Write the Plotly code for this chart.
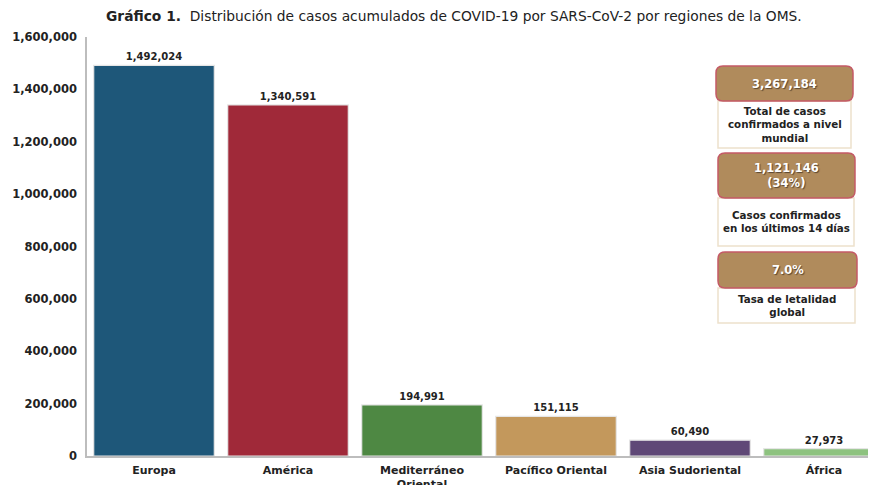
import plotly.graph_objects as go

regions = ["Europa", "América", "Mediterráneo<br>Oriental", "Pacífico Oriental", "Asia Sudoriental", "África"]
cases = [1492024, 1340591, 194991, 151115, 60490, 27973]
bar_colors = ["#1E5779", "#A02939", "#4E8843", "#C3985C", "#5F4877", "#8DC27F"]

stat_values = ["3,267,184", "1,121,146<br>(34%)", "7.0%"]
stat_labels = ["Total de casos<br>confirmados a nivel<br>mundial",
               "Casos confirmados<br>en los últimos 14 días",
               "Tasa de letalidad<br>global"]

FONT = "DejaVu Sans"
OFF = 8  # page body margin
W, H = 876 - OFF, 485 - OFF
L, T = 87 - OFF, 37 - OFF
PB = 456 - OFF
B = H - PB
R = 0
PW, PH = W - L - R, PB - T

def px(x):
    return (x - OFF - L) / PW

def py(y):
    return (PB - (y - OFF)) / PH

def rrect(x0, y0, x1, y1, r):
    a = lambda x, y: f"{px(x):.5f},{py(y):.5f}"
    return (f"M {a(x0 + r, y0)} L {a(x1 - r, y0)} Q {a(x1, y0)} {a(x1, y0 + r)} "
            f"L {a(x1, y1 - r)} Q {a(x1, y1)} {a(x1 - r, y1)} "
            f"L {a(x0 + r, y1)} Q {a(x0, y1)} {a(x0, y1 - r)} "
            f"L {a(x0, y0 + r)} Q {a(x0, y0)} {a(x0 + r, y0)} Z")

fig = go.Figure()
fig.add_trace(go.Bar(
    x=regions, y=cases,
    marker=dict(color=bar_colors, line=dict(color="#E6E6E6", width=1.2)),
    text=[f"{v:,}" for v in cases], textposition="outside",
    textfont=dict(family=FONT, size=10, color="#222222", weight="bold"),
    cliponaxis=False, width=0.9,
))

headers = [(716, 66, 853, 101), (718, 153, 855, 198), (718, 252, 857, 288)]
lowers = [(718, 101, 851, 148), (718, 198, 854, 246), (718, 288, 855, 323)]

shapes = []
annotations = []
for (h, lo, v, lab) in zip(headers, lowers, stat_values, stat_labels):
    shapes.append(dict(type="rect", xref="paper", yref="paper",
                       x0=px(lo[0]), x1=px(lo[2]), y0=py(lo[3]), y1=py(lo[1]),
                       fillcolor="white", line=dict(color="#EDE1CC", width=1.5), layer="above"))
    shapes.append(dict(type="path", xref="paper", yref="paper",
                       path=rrect(h[0], h[1], h[2], h[3], 7),
                       fillcolor="#B08B5C", line=dict(color="#C45A66", width=1.5), layer="above"))
    annotations.append(dict(xref="paper", yref="paper", x=px((h[0] + h[2]) / 2), y=py((h[1] + h[3]) / 2),
                            text=v, showarrow=False, xanchor="center", yanchor="middle",
                            font=dict(family=FONT, size=11.5, color="white", weight="bold",
                                      shadow="1px 1px 1px #5a4630")))
    annotations.append(dict(xref="paper", yref="paper", x=px((lo[0] + lo[2]) / 2), y=py((lo[1] + lo[3]) / 2),
                            text=lab, showarrow=False, xanchor="center", yanchor="middle",
                            font=dict(family=FONT, size=10.3, color="#222222", weight="bold")))

annotations.append(dict(xref="paper", yref="paper", x=px(454), y=py(16),
                        xanchor="center", yanchor="middle", showarrow=False,
                        text="<b>Gráfico 1.</b>  Distribución de casos acumulados de COVID-19 por SARS-CoV-2 por regiones de la OMS.",
                        font=dict(family=FONT, size=13.8, color="#222222")))

fig.update_layout(
    width=W, height=H,
    margin=dict(l=L, r=R, t=T, b=B, autoexpand=False),
    paper_bgcolor="white", plot_bgcolor="white",
    showlegend=False,
    shapes=shapes, annotations=annotations,
    xaxis=dict(type="category", range=[-0.5, -0.5 + PW / 134], showline=True, linecolor="#BDBDBD",
               linewidth=1.5, showgrid=False, ticks="", ticklabelstandoff=3, automargin=False,
               tickfont=dict(family=FONT, size=11, color="#222222", weight="bold")),
    yaxis=dict(range=[0, 1600000], tickvals=[0, 200000, 400000, 600000, 800000, 1000000, 1200000, 1400000, 1600000],
               tickformat=",", showline=True, linecolor="#BDBDBD", linewidth=1.5, showgrid=False,
               zeroline=False, ticks="", ticklabelstandoff=6, automargin=False,
               tickfont=dict(family=FONT, size=11.5, color="#222222", weight="bold")),
)

fig.write_html("out.html")
